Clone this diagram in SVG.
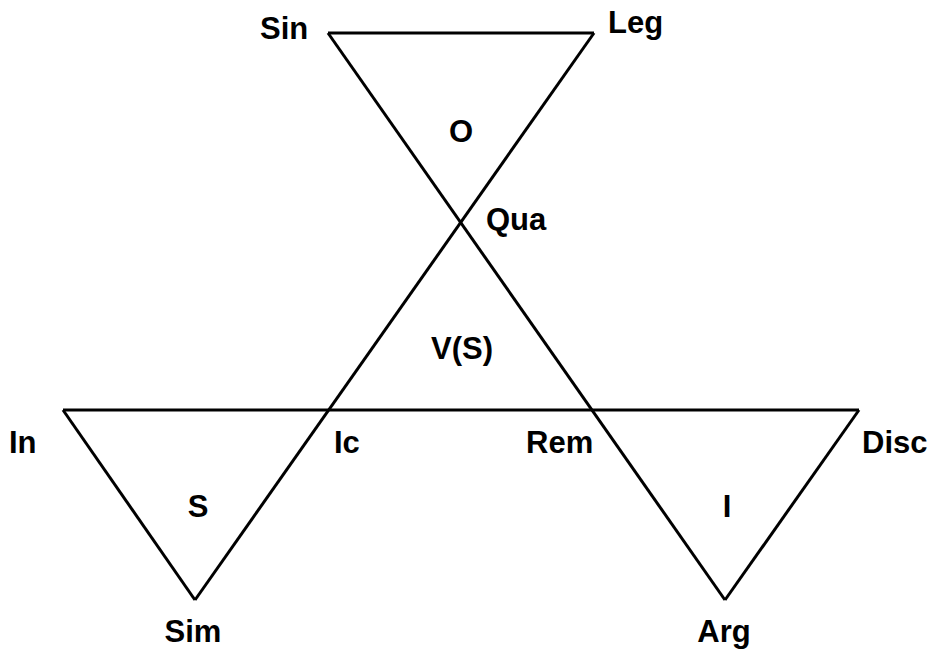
<svg xmlns="http://www.w3.org/2000/svg" width="941" height="650" viewBox="0 0 941 650">
<style>
.l{stroke:#000;stroke-width:3;fill:none;stroke-linejoin:miter}
text{font-family:"Liberation Sans",Arial,sans-serif;font-weight:bold;font-size:31px;fill:#000}
</style>
<rect width="941" height="650" fill="#fff"/>
<g id="connectors">
<line class="l" x1="328" y1="33" x2="594" y2="33"/>
<line class="l" x1="328" y1="33" x2="725" y2="600"/>
<line class="l" x1="594" y1="33" x2="195" y2="600"/>
<line class="l" x1="63" y1="410" x2="859" y2="410"/>
<line class="l" x1="63" y1="410" x2="195" y2="600"/>
<line class="l" x1="859" y1="410" x2="725" y2="600"/>
</g>
<g id="Sin"><text x="260" y="39">Sin</text></g>
<g id="Leg"><text x="608" y="33">Leg</text></g>
<g id="O"><text x="461" y="142" text-anchor="middle">O</text></g>
<g id="Qua"><text x="486" y="230">Qua</text></g>
<g id="VS"><text x="462" y="359" text-anchor="middle">V(S)</text></g>
<g id="In"><text x="9" y="453">In</text></g>
<g id="Ic"><text x="334" y="453">Ic</text></g>
<g id="Rem"><text x="526" y="453">Rem</text></g>
<g id="Disc"><text x="862" y="453">Disc</text></g>
<g id="S"><text x="198" y="517" text-anchor="middle">S</text></g>
<g id="I"><text x="727" y="517" text-anchor="middle">I</text></g>
<g id="Sim"><text x="193" y="642" text-anchor="middle">Sim</text></g>
<g id="Arg"><text x="724" y="642" text-anchor="middle">Arg</text></g>
</svg>
